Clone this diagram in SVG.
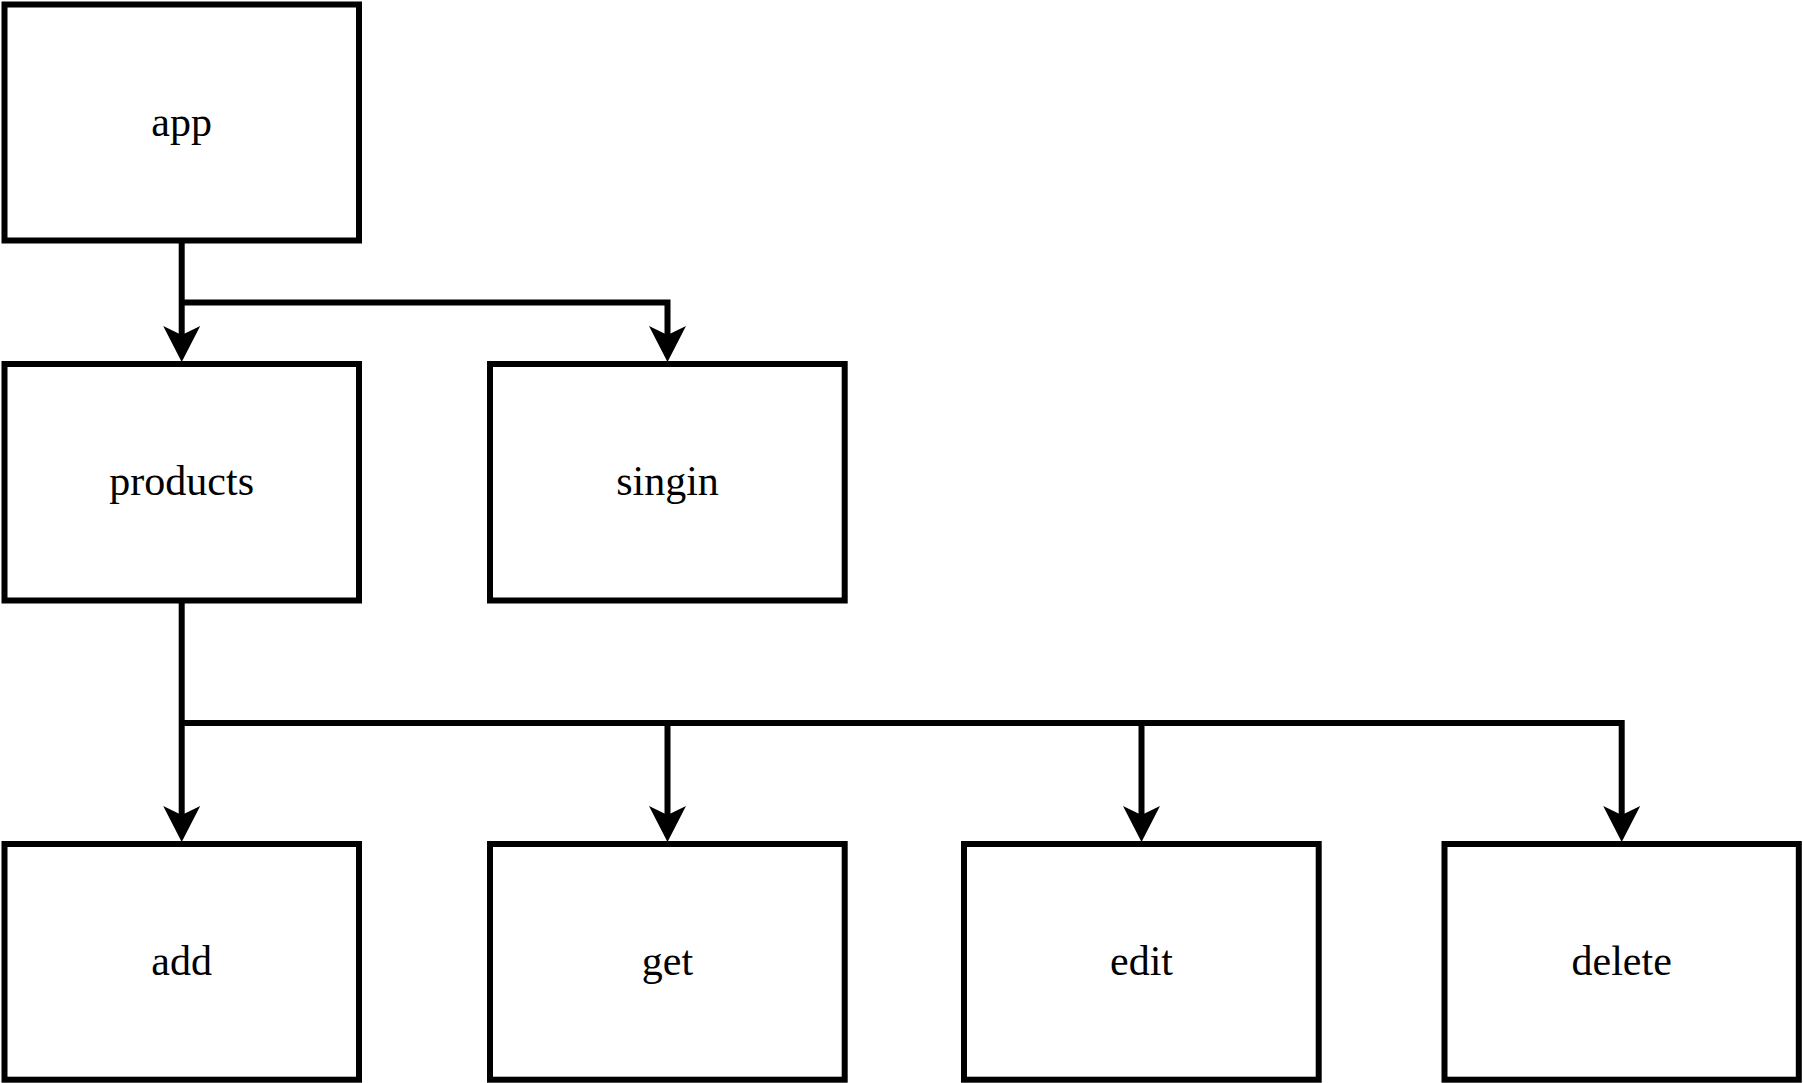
<svg xmlns="http://www.w3.org/2000/svg" width="1803" height="1083" viewBox="0 0 1803 1083">
  <style>
    .box { fill: #ffffff; stroke: #000000; stroke-width: 6; }
    .lbl { font-family: "Liberation Serif", "Times New Roman", serif; font-size: 42px; fill: #000000; text-anchor: middle; }
    .edge { fill: none; stroke: #000000; stroke-width: 6; stroke-linejoin: miter; }
  </style>
  <defs>
    <marker id="arrow" markerUnits="userSpaceOnUse" markerWidth="40" markerHeight="40" viewBox="-10 -20 40 40" refX="0" refY="0" orient="auto" overflow="visible">
      <path d="M27,0 L-9,-18.5 L0,0 L-9,18.5 Z" fill="#000000" stroke="none"/>
    </marker>
  </defs>
  <rect x="0" y="0" width="1803" height="1083" fill="#ffffff"/>

  <g id="connectors">
    <path class="edge" d="M181.7,243 L181.7,335" marker-end="url(#arrow)"/>
    <path class="edge" d="M181.7,302.5 L667.5,302.5 L667.5,335" marker-end="url(#arrow)"/>
    <path class="edge" d="M181.7,603 L181.7,815" marker-end="url(#arrow)"/>
    <path class="edge" d="M181.7,723 L667.5,723 L667.5,815" marker-end="url(#arrow)"/>
    <path class="edge" d="M667.5,723 L1141.5,723 L1141.5,815" marker-end="url(#arrow)"/>
    <path class="edge" d="M1141.5,723 L1621.7,723 L1621.7,815" marker-end="url(#arrow)"/>
  </g>

  <g id="app">
    <rect class="box" x="4.5" y="4.5" width="354.5" height="236"/>
    <text class="lbl" x="181.7" y="135.5">app</text>
  </g>
  <g id="products">
    <rect class="box" x="4.5" y="364" width="354.5" height="236.5"/>
    <text class="lbl" x="181.7" y="495">products</text>
  </g>
  <g id="singin">
    <rect class="box" x="490" y="364" width="354.7" height="236.5"/>
    <text class="lbl" x="667.5" y="495">singin</text>
  </g>
  <g id="add">
    <rect class="box" x="4.5" y="844" width="354.5" height="235.7"/>
    <text class="lbl" x="181.7" y="975">add</text>
  </g>
  <g id="get">
    <rect class="box" x="490" y="844" width="354.7" height="235.7"/>
    <text class="lbl" x="667.5" y="975">get</text>
  </g>
  <g id="edit">
    <rect class="box" x="964" y="844" width="354.7" height="235.7"/>
    <text class="lbl" x="1141.5" y="975">edit</text>
  </g>
  <g id="delete">
    <rect class="box" x="1444.5" y="844" width="354.3" height="235.7"/>
    <text class="lbl" x="1621.7" y="975">delete</text>
  </g>
</svg>
